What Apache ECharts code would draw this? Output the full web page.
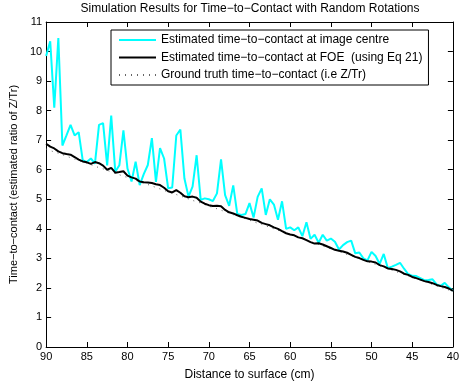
<!DOCTYPE html>
<html>
<head>
<meta charset="utf-8">
<script src="https://cdn.jsdelivr.net/npm/echarts@6/dist/echarts.min.js"></script>
<style>
html,body{margin:0;padding:0;background:#fff;}
#chart{width:462px;height:386px;}
</style>
</head>
<body>
<div id="chart"></div>
<script>
const distances = [90,89.5,89,88.5,88,87.5,87,86.5,86,85.5,85,84.5,84,83.5,83,82.5,82,81.5,81,80.5,
80,79.5,79,78.5,78,77.5,77,76.5,76,75.5,75,74.5,74,73.5,73,72.5,72,71.5,71,70.5,
70,69.5,69,68.5,68,67.5,67,66.5,66,65.5,65,64.5,64,63.5,63,62.5,62,61.5,61,60.5,
60,59.5,59,58.5,58,57.5,57,56.5,56,55.5,55,54.5,54,53.5,53,52.5,52,51.5,51,50.5,
50,49.5,49,48.5,48,47.5,47,46.5,46,45.5,45,44.5,44,43.5,43,42.5,42,41.5,41,40.5,40];

const centreTTC = [9.85,10.35,8.10,10.46,6.82,7.16,7.52,7.16,7.27,6.32,
6.26,6.38,6.21,7.52,7.58,6.15,7.83,5.93,6.15,7.33,
6.04,5.60,6.27,5.48,5.85,6.16,7.07,5.59,6.73,6.38,
5.37,5.40,7.16,7.36,5.70,5.09,5.43,6.49,4.98,5.03,
5.00,4.94,5.20,6.35,5.14,4.78,5.47,4.50,4.47,4.50,
4.87,4.38,5.08,5.37,4.47,5.00,4.82,4.31,4.93,4.00,
4.05,3.95,4.05,3.75,4.22,3.66,3.80,3.53,3.80,3.60,
3.67,3.56,3.30,3.45,3.55,3.60,3.17,3.20,3.00,2.93,
3.22,3.08,2.81,3.15,2.67,2.72,2.78,2.85,2.65,2.47,
2.41,2.40,2.33,2.26,2.27,2.29,2.12,2.07,2.17,2.02,1.90];

const foeTTC = [6.88,6.78,6.72,6.62,6.56,6.53,6.51,6.43,6.34,6.28,
6.25,6.20,6.26,6.22,6.14,6.00,6.06,5.90,5.92,5.95,
5.80,5.74,5.70,5.60,5.58,5.57,5.55,5.51,5.48,5.39,
5.27,5.23,5.31,5.22,5.10,5.07,5.09,5.05,4.92,4.85,
4.80,4.77,4.78,4.76,4.64,4.56,4.52,4.46,4.41,4.37,
4.33,4.31,4.28,4.20,4.16,4.12,4.05,4.00,3.92,3.85,
3.81,3.78,3.71,3.68,3.62,3.55,3.50,3.51,3.47,3.41,
3.35,3.29,3.26,3.23,3.19,3.12,3.05,3.01,2.95,2.90,
2.89,2.86,2.77,2.73,2.66,2.64,2.61,2.56,2.48,2.44,
2.37,2.33,2.28,2.23,2.20,2.16,2.10,2.06,2.03,1.98,1.90];

const truthTTC = [6.70,6.65,6.60,6.56,6.51,6.46,6.41,6.36,6.31,6.27,
6.22,6.17,6.12,6.07,6.03,5.98,5.93,5.88,5.83,5.78,
5.74,5.69,5.64,5.59,5.54,5.50,5.45,5.40,5.35,5.30,
5.25,5.21,5.16,5.11,5.06,5.01,4.96,4.92,4.87,4.82,
4.77,4.72,4.68,4.63,4.58,4.53,4.48,4.43,4.39,4.34,
4.29,4.24,4.19,4.15,4.10,4.05,4.00,3.95,3.90,3.86,
3.81,3.76,3.71,3.66,3.62,3.57,3.52,3.47,3.42,3.37,
3.33,3.28,3.23,3.18,3.13,3.09,3.04,2.99,2.94,2.89,
2.84,2.80,2.75,2.70,2.65,2.60,2.55,2.51,2.46,2.41,
2.36,2.31,2.27,2.22,2.17,2.12,2.07,2.02,1.98,1.93,1.88];

const seriesNames = [
  'Estimated time\u2212to\u2212contact at image centre',
  'Estimated time\u2212to\u2212contact at FOE  (using Eq 21)',
  'Ground truth time\u2212to\u2212contact (i.e Z/Tr)'
];

const FONT = '"Liberation Sans", Arial, Helvetica, sans-serif';
const pairs = vals => distances.map((d, i) => [d, vals[i]]);

const chart = echarts.init(document.getElementById('chart'), null, {renderer: 'canvas'});
const axisBase = {
  axisLine: {show: true, onZero: false, lineStyle: {color: '#000', width: 1}},
  axisTick: {show: true, inside: true, length: 5, lineStyle: {color: '#000'}},
  splitLine: {show: false},
  axisLabel: {color: '#000', fontSize: 11, fontFamily: FONT}
};
chart.setOption({
  animation: false,
  backgroundColor: '#fff',
  title: {
    text: 'Simulation Results for Time\u2212to\u2212Contact with Random Rotations',
    left: 250, textAlign: 'center', top: 2.5, padding: 0,
    textStyle: {fontSize: 12, fontWeight: 'normal', color: '#000', fontFamily: FONT}
  },
  grid: {left: 41.7, right: 3.7, top: 22, bottom: 36, containLabel: false},
  legend: {
    data: seriesNames,
    orient: 'vertical',
    left: 111, top: 30,
    itemWidth: 37, itemHeight: 12, itemGap: 5.5,
    padding: [4, 6, 4, 7],
    borderColor: '#000', borderWidth: 1,
    backgroundColor: '#fff',
    itemStyle: {opacity: 0},
    textStyle: {fontSize: 12, color: '#000', fontFamily: FONT},
    selectedMode: false
  },
  xAxis: [
    Object.assign({}, axisBase, {
      type: 'value', min: 40, max: 90, interval: 5, inverse: true,
      name: 'Distance to surface (cm)', nameLocation: 'middle', nameGap: 22,
      nameTextStyle: {fontSize: 12, color: '#000', fontFamily: FONT},
      axisLabel: {color: '#000', fontSize: 11, fontFamily: FONT, margin: 4}
    }),
    Object.assign({}, axisBase, {
      type: 'value', min: 40, max: 90, interval: 5, inverse: true, position: 'top',
      axisLabel: {show: false}
    })
  ],
  yAxis: [
    Object.assign({}, axisBase, {
      type: 'value', min: 0, max: 11, interval: 1,
      name: 'Time\u2212to\u2212contact (estimated ratio of Z/Tr)', nameLocation: 'middle', nameGap: 25,
      nameTextStyle: {fontSize: 11, color: '#000', fontFamily: FONT},
      axisLabel: {color: '#000', fontSize: 11, fontFamily: FONT, margin: 4}
    }),
    Object.assign({}, axisBase, {
      type: 'value', min: 0, max: 11, interval: 1, position: 'right',
      axisLabel: {show: false}
    })
  ],
  series: [
    {
      name: seriesNames[0], type: 'line', data: pairs(centreTTC),
      showSymbol: false, symbol: 'none', z: 2,
      lineStyle: {color: '#00ffff', width: 2}, itemStyle: {color: '#00ffff'}
    },
    {
      name: seriesNames[1], type: 'line', data: pairs(foeTTC),
      showSymbol: false, symbol: 'none', z: 4,
      lineStyle: {color: '#000', width: 2}, itemStyle: {color: '#000'}
    },
    {
      name: seriesNames[2], type: 'line', data: pairs(truthTTC),
      showSymbol: false, symbol: 'none', z: 1,
      lineStyle: {color: '#666', width: 1, type: [1, 5]}, itemStyle: {color: '#666'}
    }
  ]
});
</script>
</body>
</html>
